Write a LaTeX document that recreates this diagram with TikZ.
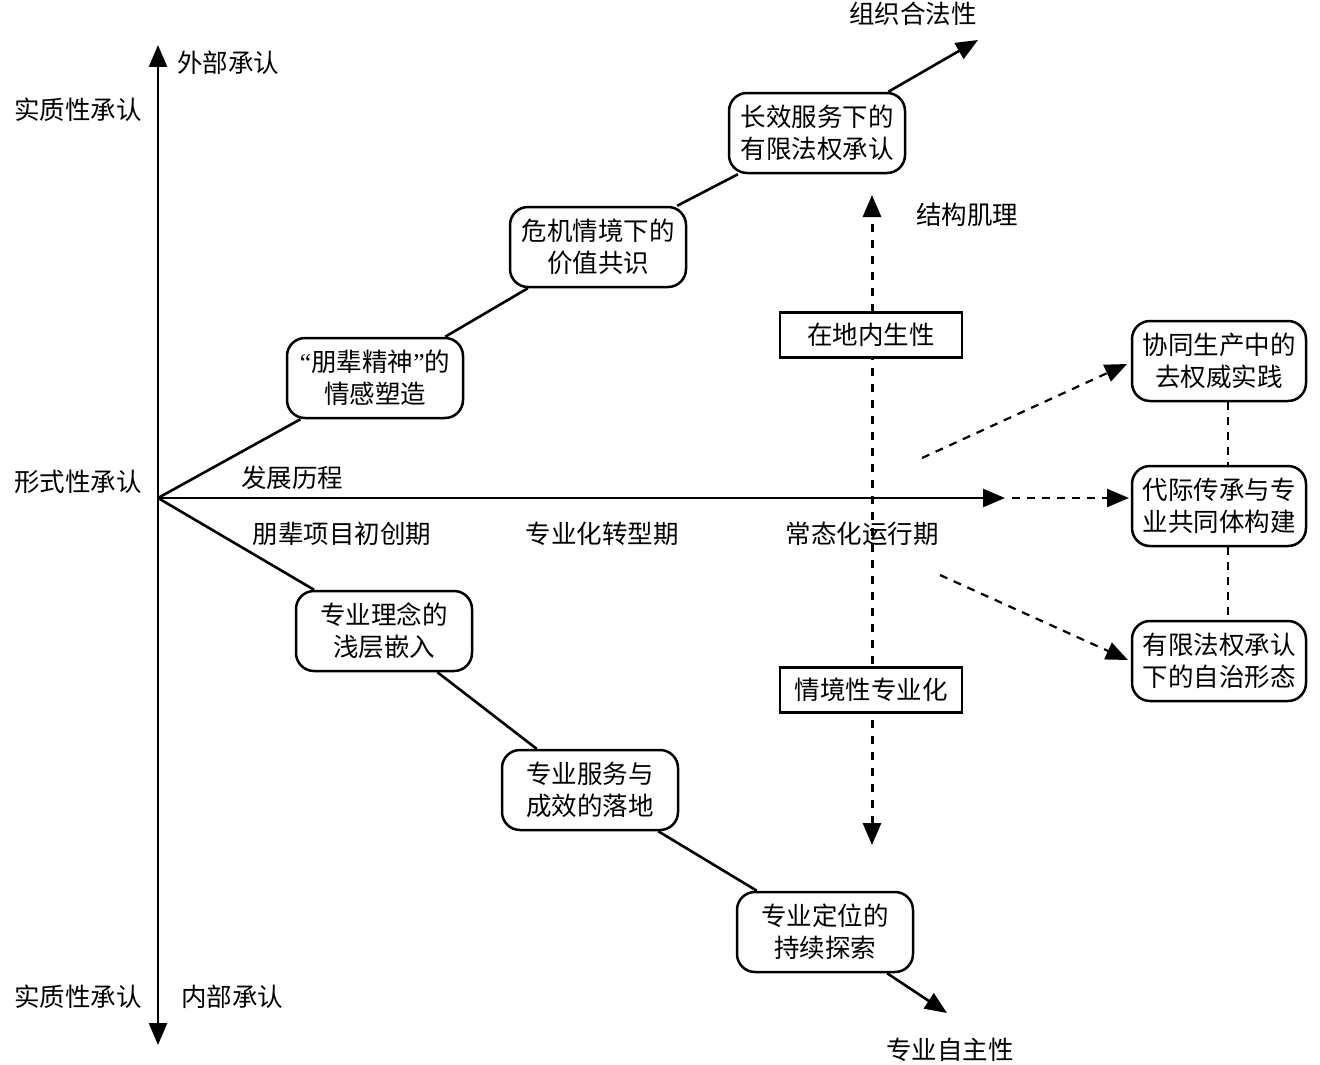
\documentclass[tikz,border=0pt]{standalone}
\usepackage{fontspec}
\newfontfamily\cjk{Noto Sans CJK SC}
\newfontfamily\lat{Liberation Serif}
\usetikzlibrary{arrows.meta}
\begin{document}
\begin{tikzpicture}[x=1pt,y=-1pt,
  every node/.style={font=\cjk\fontsize{25.5}{32}\selectfont, inner sep=0pt},
  rbox/.style={draw, line width=2.5pt, rounded corners=18pt, fill=white, minimum width=176pt, minimum height=80pt, align=center},
  sbox/.style={draw, line width=2.2pt, fill=white, minimum width=182pt, minimum height=45pt},
  solidline/.style={line width=2.6pt},
  arr/.style={-{Triangle[length=22pt,width=18pt]}},
  dashline/.style={line width=2.2pt, dash pattern=on 8pt off 7pt},
  dotline/.style={line width=3pt, dash pattern=on 8pt off 8pt},
  lbl/.style={anchor=center}
]
\useasboundingbox (0,0) rectangle (1320,1065);
% axes
\coordinate (O) at (158,498);
\coordinate (vtop) at (158,45);
\coordinate (vbot) at (158,1045);
\coordinate (htip) at (1005,498);
\draw[solidline, {Triangle[length=22pt,width=18pt]}-{Triangle[length=22pt,width=18pt]}] (vbot) -- (vtop);
\draw[solidline, arr] (O) -- (htip);

\node[lbl] (ext) at (228,63) {外部承认};
\node[lbl] (sub1) at (78,110) {实质性承认};
\node[lbl] (form) at (78,482) {形式性承认};
\node[lbl] (sub2) at (78,997) {实质性承认};
\node[lbl] (int) at (232,997) {内部承认};
\node[lbl] (dev) at (292,478) {发展历程};
\node[lbl] (p1) at (342,534) {朋辈项目初创期};
\node[lbl] (p2) at (602,534) {专业化转型期};
\node[lbl] (p3) at (862,534) {常态化运行期};

% vertical dotted double arrow
\coordinate (dtop) at (872,195);
\coordinate (dbot) at (872,845);
\draw[dotline, {Triangle[length=22pt,width=18pt]}-{Triangle[length=22pt,width=18pt]}] (dbot) -- (dtop);
\node[sbox] (s1) at (871,335) {在地内生性};
\node[sbox] (s2) at (871,690) {情境性专业化};
\node[lbl] (jg) at (967,215) {结构肌理};

% upper branch
\node[rbox] (b1) at (375,378) {{\lat “}朋辈精神{\lat ”}的\\情感塑造};
\node[rbox] (b2) at (598,247) {危机情境下的\\价值共识};
\node[rbox] (b3) at (817,133) {长效服务下的\\有限法权承认};
\coordinate (utip) at (978,40);
\node[lbl] (org) at (913,14) {组织合法性};
\draw[solidline] (O) -- (b1);
\draw[solidline] (b1) -- (b2);
\draw[solidline] (b2) -- (b3);
\draw[solidline, arr] (b3) -- (utip);

% lower branch
\node[rbox] (b4) at (384,631) {专业理念的\\浅层嵌入};
\node[rbox] (b5) at (590,790) {专业服务与\\成效的落地};
\node[rbox] (b6) at (825,932) {专业定位的\\持续探索};
\coordinate (ltip) at (947,1013);
\node[lbl] (auto) at (950,1050) {专业自主性};
\draw[solidline] (O) -- (b4);
\draw[solidline] (b4) -- (b5);
\draw[solidline] (b5) -- (b6);
\draw[solidline, arr] (b6) -- (ltip);

% right boxes
\node[rbox, minimum width=174pt] (r1) at (1219,361) {协同生产中的\\去权威实践};
\node[rbox, minimum width=174pt] (r2) at (1219,506) {代际传承与专\\业共同体构建};
\node[rbox, minimum width=174pt] (r3) at (1219,661) {有限法权承认\\下的自治形态};
\draw[dashline] ([xshift=9pt]r1.south) -- ([xshift=9pt]r2.north);
\draw[dashline] ([xshift=9pt]r2.south) -- ([xshift=9pt]r3.north);

\coordinate (da) at (922,458);
\coordinate (db) at (1012,498);
\coordinate (dbtip) at (1129,498);
\coordinate (dc) at (940,575);
\draw[dashline, arr] (da) -- (1127,364);
\draw[dashline, arr] (db) -- (dbtip);
\draw[dashline, arr] (dc) -- (1128,660);
\end{tikzpicture}
\end{document}
